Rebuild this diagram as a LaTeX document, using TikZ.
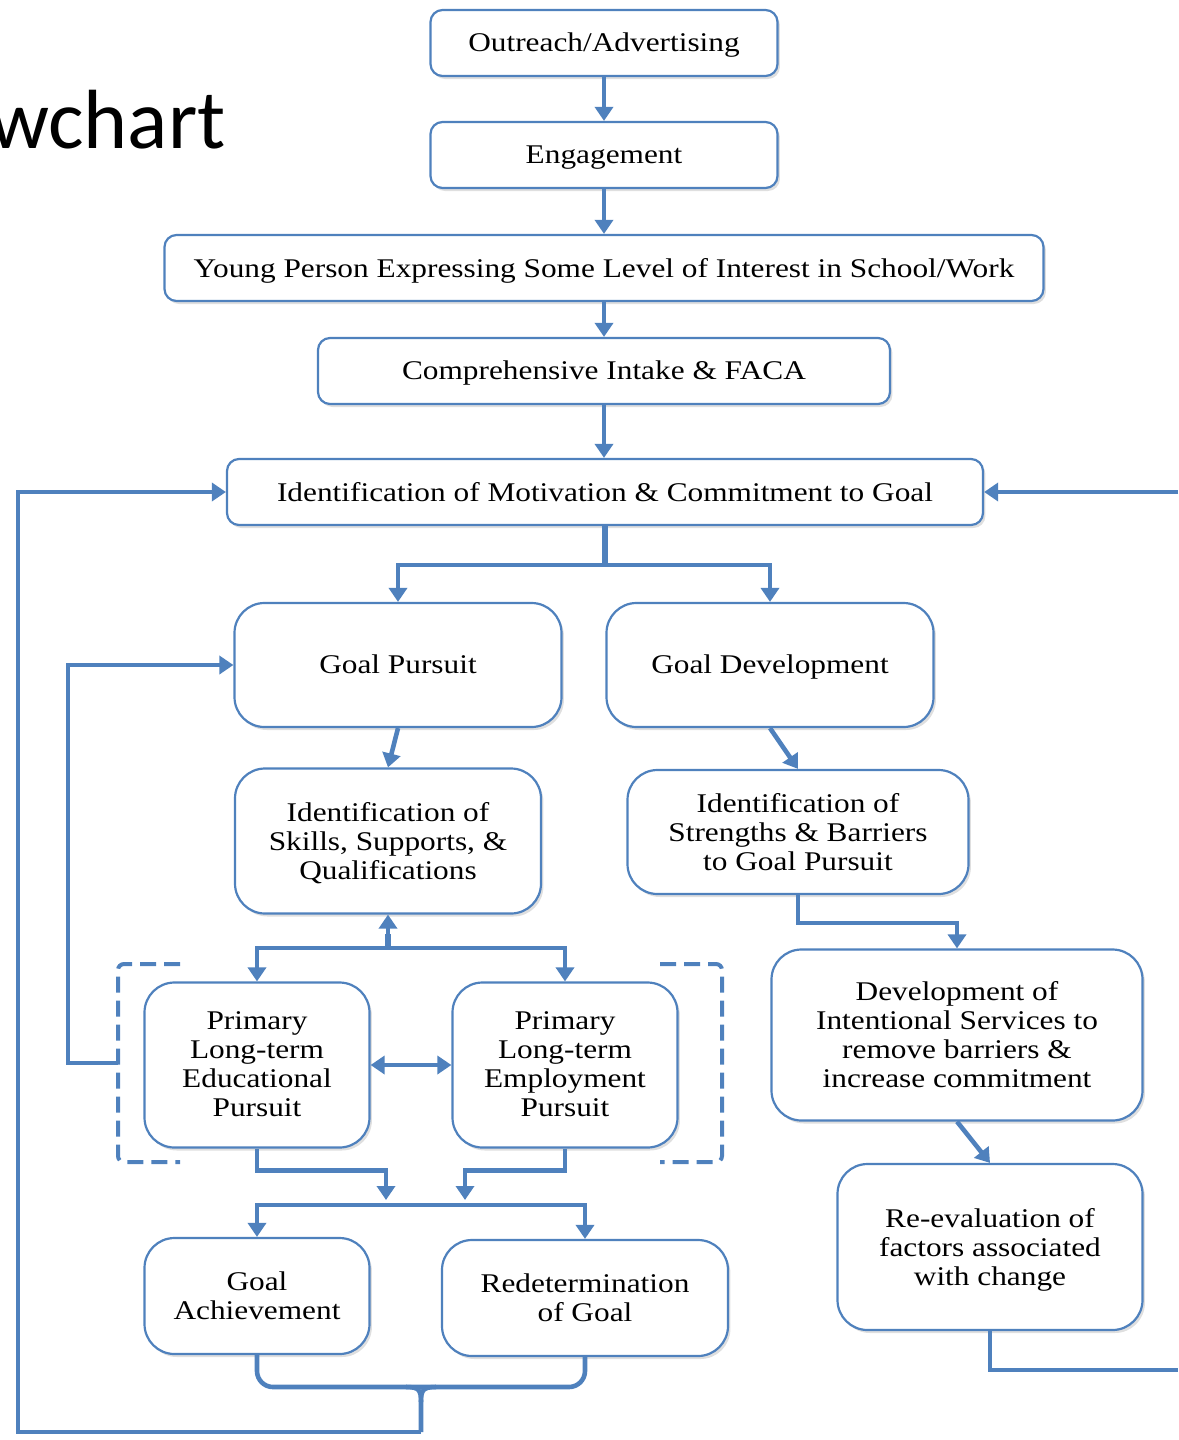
\documentclass[tikz,border=0pt]{standalone}
\usepackage{fontspec}
\setmainfont{Liberation Serif}[FakeStretch=1.16]
\newfontfamily\titlefont{Carlito}
\usepackage{tikz}
\usetikzlibrary{arrows.meta}
\usetikzlibrary{shadows}
\definecolor{flowblue}{RGB}{79,129,189}

\begin{document}
\begin{tikzpicture}[x=0.5pt,y=-0.5pt]
\tikzset{box/.style={draw=flowblue,line width=1.1pt,fill=white,rounded corners=6pt,align=center,inner sep=2pt,text depth=0.05em,
  font=\fontsize{13.5}{14.5}\selectfont,drop shadow={shadow xshift=1.2pt,shadow yshift=-1.5pt,opacity=0.25}}}
\tikzset{bigbox/.style={box,rounded corners=15pt}}
\tikzset{line/.style={flowblue,line width=2.3pt}}
\tikzset{link/.style={line,-{Triangle[length=7pt,width=9pt]}}}
\tikzset{dashline/.style={flowblue,line width=2pt,dash pattern=on 8pt off 4pt,rounded corners=3pt}}
\useasboundingbox (0,0) rectangle (1178,1440);
\node (t) at (226,148) [anchor=base east,inner sep=0pt,font=\titlefont\fontsize{42}{48}\selectfont] {wchart};
\node (1) at (604,43) [box,minimum width=173.5pt,minimum height=33pt] {Outreach/Advertising};
\node (2) at (604,155) [box,minimum width=173.5pt,minimum height=33pt] {Engagement};
\node (3) at (604,268) [box,minimum width=439.5pt,minimum height=33pt] {Young Person Expressing Some Level of Interest in School/Work};
\node (4) at (604,371) [box,minimum width=286pt,minimum height=33pt] {Comprehensive Intake \& FACA};
\node (5) at (605,492) [box,minimum width=378pt,minimum height=33pt] {Identification of Motivation \& Commitment to Goal};
\node (6) at (398,665) [bigbox,minimum width=163.5pt,minimum height=62pt] {Goal Pursuit};
\node (7) at (770,665) [bigbox,minimum width=163.5pt,minimum height=62pt] {Goal Development};
\node (8) at (388,841) [bigbox,minimum width=153pt,minimum height=72.5pt] {Identification of\\Skills, Supports, \&\\Qualifications};
\node (9) at (798,832) [bigbox,minimum width=170.5pt,minimum height=62pt] {Identification of\\Strengths \& Barriers\\to Goal Pursuit};
\node (10) at (257,1065) [bigbox,minimum width=112.5pt,minimum height=82.5pt] {Primary\\Long-term\\Educational\\Pursuit};
\node (11) at (565,1065) [bigbox,minimum width=112.5pt,minimum height=82.5pt] {Primary\\Long-term\\Employment\\Pursuit};
\node (12) at (957,1035) [bigbox,minimum width=185.5pt,minimum height=85.5pt] {Development of\\Intentional Services to\\remove barriers \&\\increase commitment};
\node (13) at (990,1247) [bigbox,minimum width=152.5pt,minimum height=83pt] {Re-evaluation of\\factors associated\\with change};
\node (14) at (257,1296) [bigbox,minimum width=112.5pt,minimum height=58pt] {Goal\\Achievement};
\node (15) at (585,1298) [bigbox,minimum width=143pt,minimum height=58pt] {Redetermination\\of Goal};

\coordinate (j1) at (388,948);
\coordinate (j2) at (421,1205);
\coordinate (m1) at (386,1200);
\coordinate (m2) at (465,1200);
\coordinate (k1) at (118,1063);
\coordinate (b1) at (421,1432);
\coordinate (r1) at (1178,492);
\coordinate (r2) at (1178,1370);

% main column
\draw[link] (1) -- (2);
\draw[link] (2) -- (3);
\draw[link] (3.south -| 1) -- (4.north -| 1);
\draw[link] (4.south -| 1) -- (5.north -| 1);
\draw[line,line width=3.2pt] (5.south) -- ++(0,39);
\draw[link] (5.south) -- ++(0,39) -| (6.north);
\draw[link] (5.south) -- ++(0,39) -| (7.north);
\draw[link] (6.south) -- (8.north);
\draw[link] (7.south) -- (9.north);

% pursuit branch
\draw[line,line width=3.2pt] (j1) -- ++(0,-14);
\draw[link] (j1) -- (8.south);
\draw[link] (j1) -| (10.north);
\draw[link] (j1) -| (11.north);
\draw[link,{Triangle[length=7pt,width=9pt]}-{Triangle[length=7pt,width=9pt]}] (10) -- (11);
\draw[dashline] (180,964) -- (118,964) -- (118,1162) -- (180,1162);
\draw[dashline] (660,964) -- (722,964) -- (722,1162) -- (660,1162);
\draw[link] (k1) -- (68,1063) -- (68,665) -- (6.west);
\draw[link] (10.south) -- ++(0,22) -| (m1);
\draw[link] (11.south) -- ++(0,22) -| (m2);
\draw[link] (j2) -| (14.north);
\draw[link] (j2) -| (15.north);

% bottom brace back to motivation
\draw[line,rounded corners=8pt] (14.south) -- (257,1387) -- (585,1387) -- (15.south);
\draw[line] (406,1387) .. controls (419,1387) and (421,1390) .. (421,1402) -- (b1);
\draw[line] (436,1387) .. controls (423,1387) and (421,1390) .. (421,1402);
\draw[link] (b1) -- (18,1432) -- (18,492) -- (5.west);

% development branch
\draw[link] (9.south) -- ++(0,28) -| (12.north);
\draw[link] (12.south) -- (13.north);
\draw[line] (13.south) |- (r2);
\draw[link] (r1) -- (5.east);
\end{tikzpicture}
\end{document}
